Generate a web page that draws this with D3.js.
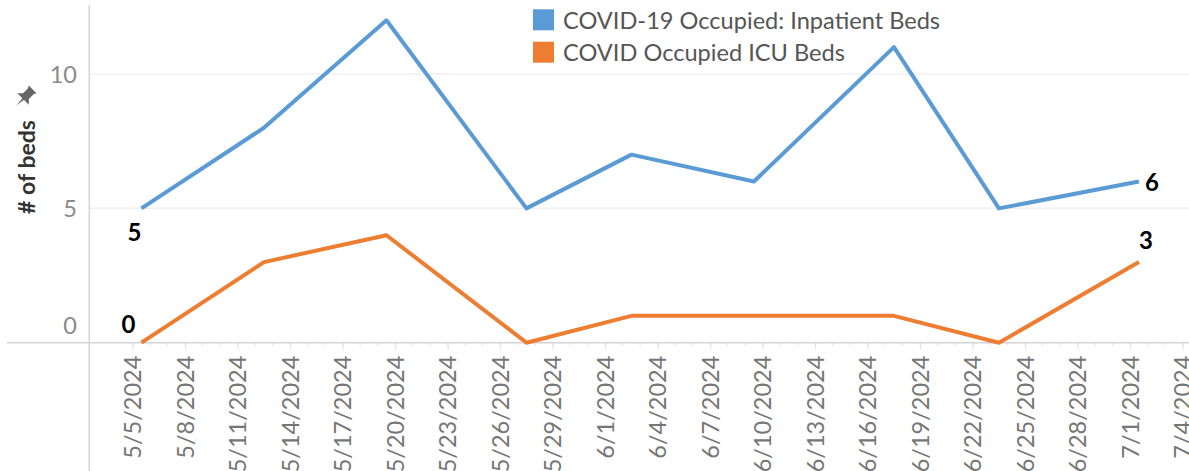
<!DOCTYPE html>
<html>
<head>
<meta charset="utf-8">
<script src="https://cdn.jsdelivr.net/npm/d3@7"></script>
<style>
  html, body { margin: 0; padding: 0; background: #fff; }
  svg { display: block; font-family: Lato, "Open Sans", sans-serif; }
</style>
</head>
<body>
<div id="chart"></div>
<script>
// weekly snapshot dates
const dates = ['2024-05-05', '2024-05-12', '2024-05-19', '2024-05-27', '2024-06-02',
               '2024-06-09', '2024-06-17', '2024-06-23', '2024-07-01'];
const inpatientBeds = [5, 8, 12, 5, 7, 6, 11, 5, 6];
const icuBeds = [0, 3, 4, 0, 1, 1, 1, 0, 3];
const seriesNames = ['COVID-19 Occupied: Inpatient Beds', 'COVID Occupied ICU Beds'];
const seriesColors = ['#5b9bd5', '#ed7d31'];
const yTicks = [0, 5, 10];
const xDomain = ['2024-05-05', '2024-07-04'];

const width = 1189, height = 471;

const svg = d3.select('#chart').append('svg')
    .attr('width', width)
    .attr('height', height);

// scales
const x = d3.scaleUtc()
    .domain(xDomain.map(s => new Date(s + 'T00:00:00Z')))
    .range([132.7, 1182.7]);
const y = d3.scaleLinear()
    .domain([0, 12.57])
    .range([342.7, 5]);

// points sit at the middle of the day
const px = s => x(d3.utcHour.offset(new Date(s + 'T00:00:00Z'), 12));

// gridlines
svg.append('g')
    .selectAll('line')
    .data(yTicks.filter(d => d > 0))
    .join('line')
    .attr('x1', 89.3).attr('x2', width)
    .attr('y1', d => y(d)).attr('y2', d => y(d))
    .attr('stroke', '#f0f0f0')
    .attr('stroke-width', 1.5);

// minor daily ticks
const days = d3.utcDay.range(x.domain()[0], d3.utcDay.offset(x.domain()[1], 1));
svg.append('g')
    .selectAll('line')
    .data(days)
    .join('line')
    .attr('x1', d => x(d)).attr('x2', d => x(d))
    .attr('y1', 342.7).attr('y2', 346)
    .attr('stroke', '#e6e6e6');

// x axis with major ticks every 3 days
const xAxis = d3.axisBottom(x)
    .tickValues(d3.utcDay.range(x.domain()[0], d3.utcDay.offset(x.domain()[1], 1), 3))
    .tickFormat(d3.utcFormat('%-m/%-d/%Y'))
    .tickSize(7)
    .tickSizeOuter(0);

const gx = svg.append('g')
    .attr('transform', 'translate(0,342.7)')
    .call(xAxis);
gx.select('.domain').remove();
gx.selectAll('.tick line').attr('stroke', '#e0e0e0');
gx.selectAll('.tick text')
    .attr('transform', 'rotate(-90)')
    .attr('text-anchor', 'end')
    .attr('x', -13)
    .attr('y', 0)
    .attr('dy', '0.35em')
    .attr('fill', '#767676')
    .style('font-size', '23.5px')
    .style('font-family', 'Lato, sans-serif');

// axis lines
svg.append('line')
    .attr('x1', 7).attr('x2', width)
    .attr('y1', 342.7).attr('y2', 342.7)
    .attr('stroke', '#d4d4d4').attr('stroke-width', 1.5);
svg.append('line')
    .attr('x1', 89.3).attr('x2', 89.3)
    .attr('y1', 5).attr('y2', height)
    .attr('stroke', '#d4d4d4').attr('stroke-width', 1.5);

// y tick labels (bottom one nudged up like Tableau)
svg.append('g')
    .selectAll('text')
    .data(yTicks)
    .join('text')
    .attr('x', 77)
    .attr('y', d => d === 0 ? y(d) - 17 : y(d))
    .attr('dy', '0.36em')
    .attr('text-anchor', 'end')
    .attr('fill', '#8a8a8a')
    .style('font-size', '23.5px')
    .text(d => d);

// y axis title with pin
const title = svg.append('g').attr('transform', 'translate(27,167) rotate(-90)');
title.append('text')
    .attr('text-anchor', 'middle')
    .attr('dy', '0.35em')
    .attr('fill', '#333')
    .style('font-size', '23px')
    .style('font-weight', 'bold')
    .text('# of beds');
svg.append('path')
    .attr('transform', 'translate(25,97) rotate(45) scale(1.35)')
    .attr('d', 'M-4,-8 L4,-8 L3,-6 L3,-1 L6,2 L-6,2 L-3,-1 L-3,-6 Z M-0.8,2 L0.8,2 L0,9 Z')
    .attr('fill', '#666');

// lines
const series = [inpatientBeds, icuBeds];
const line = d3.line()
    .x((d, i) => px(dates[i]))
    .y(d => y(d));

svg.append('g')
    .selectAll('path')
    .data(series)
    .join('path')
    .attr('d', d => line(d))
    .attr('fill', 'none')
    .attr('stroke', (d, i) => seriesColors[i])
    .attr('stroke-width', 4)
    .attr('stroke-linejoin', 'round');

// end labels: first and last point of each series
const last = dates.length - 1;
const labels = [
    { s: 0, i: 0, dx: -7, dy: 24 },
    { s: 1, i: 0, dx: -13, dy: -18 },
    { s: 0, i: last, dx: 13, dy: 1 },
    { s: 1, i: last, dx: 7, dy: -22 }
];
svg.append('g')
    .selectAll('text')
    .data(labels)
    .join('text')
    .attr('x', d => px(dates[d.i]) + d.dx)
    .attr('y', d => y(series[d.s][d.i]) + d.dy)
    .attr('dy', '0.36em')
    .attr('text-anchor', 'middle')
    .attr('fill', '#000')
    .style('font-size', '24px')
    .style('font-weight', 'bold')
    .text(d => series[d.s][d.i]);

// legend
const legend = svg.append('g')
    .selectAll('g')
    .data(seriesNames)
    .join('g')
    .attr('transform', (d, i) => `translate(533,${9.3 + i * 32.4})`);
legend.append('rect')
    .attr('width', 21).attr('height', 21)
    .attr('fill', (d, i) => seriesColors[i]);
legend.append('text')
    .attr('x', 30)
    .attr('y', 11)
    .attr('dy', '0.36em')
    .attr('fill', '#555')
    .style('font-size', '23.6px')
    .text(d => d);
</script>
</body>
</html>
